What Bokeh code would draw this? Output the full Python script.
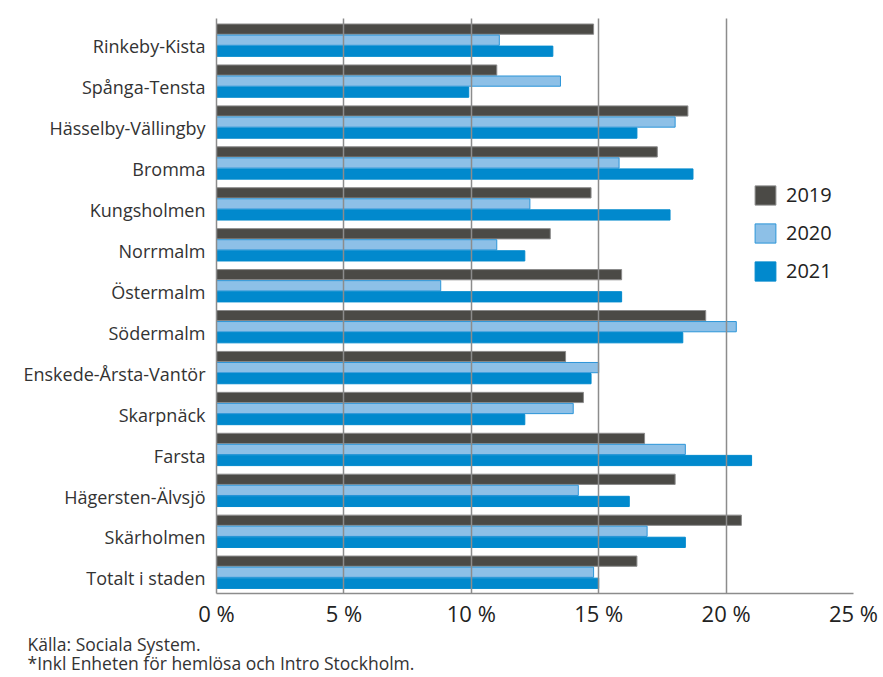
from bokeh.plotting import figure
from bokeh.models import Range1d, FixedTicker, ColumnDataSource, Legend, LegendItem, Title
from bokeh.embed import file_html
from bokeh.resources import INLINE

categories = ["Rinkeby-Kista", "Spånga-Tensta", "Hässelby-Vällingby", "Bromma",
              "Kungsholmen", "Norrmalm", "Östermalm", "Södermalm",
              "Enskede-Årsta-Vantör", "Skarpnäck", "Farsta", "Hägersten-Älvsjö",
              "Skärholmen", "Totalt i staden"]
v2019 = [14.8, 11.0, 18.5, 17.3, 14.7, 13.1, 15.9, 19.2, 13.7, 14.4, 16.8, 18.0, 20.6, 16.5]
v2020 = [11.1, 13.5, 18.0, 15.8, 12.3, 11.0, 8.8, 20.4, 15.0, 14.0, 18.4, 14.2, 16.9, 14.8]
v2021 = [13.2, 9.9, 16.5, 18.7, 17.8, 12.1, 15.9, 18.3, 14.7, 12.1, 21.0, 16.2, 18.4, 15.0]
years = ["2019", "2020", "2021"]
x_ticks = [0, 5, 10, 15, 20, 25]
x_tick_labels = ["0 %", "5 %", "10 %", "15 %", "20 %", "25 %"]
source_lines = ["Källa: Sociala System.", "*Inkl Enheten för hemlösa och Intro Stockholm."]

FONT = "Open Sans"
n = len(categories)
pos = [n - 1 - i for i in range(n)]

p = figure(width=883, height=677, output_backend="svg", toolbar_location=None,
           x_range=Range1d(0, 25), y_range=Range1d(-0.37, n - 1 + 0.68),
           min_border_left=216, min_border_top=18, min_border_right=30, min_border_bottom=84)
p.outline_line_color = None
p.background_fill_color = "white"

series = [
    (v2019, 0.42, "#4b4a46", "#8a8a8a"),
    (v2020, 0.15, "#8dc0e7", "#2c95d8"),
    (v2021, -0.12, "#0189cd", "#0189cd"),
]
renderers = []
for vals, off, fill, line in series:
    src = ColumnDataSource(dict(y=[q + off for q in pos], right=vals))
    r = p.hbar(y="y", left=0, right="right", height=0.25, source=src,
               fill_color=fill, line_color=line, line_width=1)
    renderers.append(r)

legend = Legend(items=[LegendItem(label=years[i], renderers=[renderers[i]]) for i in range(3)],
                location=(536, 309), orientation="vertical",
                glyph_width=26, glyph_height=24, spacing=11, label_standoff=8,
                padding=0, margin=0, border_line_color=None, background_fill_alpha=0,
                label_text_font=FONT, label_text_font_size="20px", label_text_color="#222222")
p.add_layout(legend)

p.xaxis.ticker = FixedTicker(ticks=x_ticks)
p.xaxis.major_label_overrides = {t: l for t, l in zip(x_ticks, x_tick_labels)}
p.xaxis.axis_line_color = "#8c8c8c"
p.xaxis.axis_line_width = 1.5
p.xaxis.major_tick_line_color = None
p.xaxis.minor_tick_line_color = None
p.xaxis.major_tick_out = 0
p.xaxis.major_tick_in = 0
p.xaxis.minor_tick_out = 0
p.xaxis.major_label_standoff = 4
p.xaxis.major_label_text_font = FONT
p.xaxis.major_label_text_font_size = "22px"
p.xaxis.major_label_text_color = "#222222"

p.yaxis.ticker = FixedTicker(ticks=pos)
p.yaxis.major_label_overrides = {q: c for q, c in zip(pos, categories)}
p.yaxis.axis_line_color = "#8c8c8c"
p.yaxis.axis_line_width = 1.5
p.yaxis.major_tick_line_color = None
p.yaxis.minor_tick_line_color = None
p.yaxis.major_tick_out = 0
p.yaxis.major_tick_in = 0
p.yaxis.minor_tick_out = 0
p.yaxis.major_label_standoff = 11
p.yaxis.major_label_text_font = FONT
p.yaxis.major_label_text_font_size = "18px"
p.yaxis.major_label_text_color = "#333333"

p.xgrid.ticker = FixedTicker(ticks=x_ticks)
p.xgrid.grid_line_color = "#8c8c8c"
p.xgrid.grid_line_width = 1.5
p.xgrid.level = "overlay"
p.ygrid.grid_line_color = None

p.add_layout(Title(text="\n".join(source_lines), align="left", offset=-189, standoff=0,
                   text_font=FONT, text_font_size="17.5px", text_font_style="normal",
                   text_line_height=0.8, text_color="#333333"), "below")

open("out.html", "w").write(file_html(p, INLINE))
